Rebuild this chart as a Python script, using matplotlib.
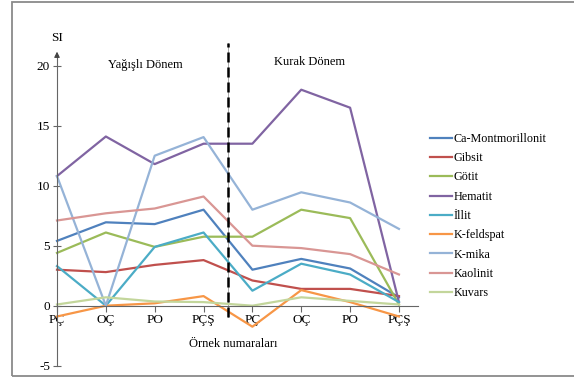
import matplotlib
matplotlib.use('Agg')
import matplotlib.pyplot as plt
from matplotlib.patches import Rectangle

plt.rcParams['font.family'] = ['Liberation Serif', 'DejaVu Serif']

# örnek noktaları (yağışlı + kurak dönem)
ornekler = ['PÇ', 'OÇ', 'PO', 'PÇŞ', 'PÇ', 'OÇ', 'PO', 'PÇŞ']

ca_montmorillonit = [5.4, 6.95, 6.8, 8.0, 3.0, 3.9, 3.1, 0.7]
gibsit = [3.0, 2.8, 3.4, 3.8, 2.1, 1.4, 1.4, 0.8]
gotit = [4.4, 6.1, 4.9, 5.75, 5.75, 8.0, 7.3, 0.1]
hematit = [10.8, 14.1, 11.8, 13.5, 13.5, 18.0, 16.5, 0.3]
illit = [3.3, 0.0, 4.9, 6.1, 1.25, 3.5, 2.6, 0.3]
k_feldspat = [-0.9, 0.0, 0.2, 0.8, -1.75, 1.3, 0.3, -0.9]
k_mika = [10.8, 0.0, 12.5, 14.05, 8.0, 9.45, 8.6, 6.4]
kaolinit = [7.1, 7.7, 8.1, 9.1, 5.0, 4.8, 4.3, 2.6]
kuvars = [0.1, 0.7, 0.35, 0.3, 0.0, 0.7, 0.4, 0.1]

seriler = [
    ('Ca-Montmorillonit', ca_montmorillonit, '#4F81BD'),
    ('Gibsit', gibsit, '#C0504D'),
    ('Götit', gotit, '#9BBB59'),
    ('Hematit', hematit, '#8064A2'),
    ('İllit', illit, '#4BACC6'),
    ('K-feldspat', k_feldspat, '#F79646'),
    ('K-mika', k_mika, '#95B3D7'),
    ('Kaolinit', kaolinit, '#D99694'),
    ('Kuvars', kuvars, '#C3D69B'),
]

W, H = 574, 378
fig = plt.figure(figsize=(W / 100, H / 100), dpi=100)

# çerçeve
fig.patches.append(Rectangle((12 / W, 2 / H), 1.0, (H - 4) / H, transform=fig.transFigure,
                             fill=False, edgecolor='#8a8a8a', lw=1.3, clip_on=False))

ax = fig.add_axes([57 / W, (H - 365.7) / H, (418 - 57) / W, 324 / H])
ax.set_xlim(0, 7.39)
ax.set_ylim(-5, 22)
ax.patch.set_visible(False)

x = list(range(len(ornekler)))
for ad, deger, renk in seriler:
    ax.plot(x, deger, color=renk, lw=1.6, label=ad, clip_on=False)

# dönem ayrımı
ax.plot([3.5, 3.5], [-0.9, 21.9], color='#999999', lw=0.6, clip_on=False, zorder=1)
ax.plot([3.5, 3.5], [-0.9, 21.9], color='black', lw=1.8, ls=(0, (4, 2)), clip_on=False, zorder=5)

# eksenler
for s in ['top', 'right']:
    ax.spines[s].set_visible(False)
ax.spines['bottom'].set_position(('data', 0))
ax.spines['left'].set_bounds(-5, 21.0)
ax.spines['bottom'].set_color('#666666')
ax.spines['left'].set_color('#666666')
ax.annotate('', xy=(0, 21.4), xytext=(0, 20.6),
            arrowprops=dict(arrowstyle='-|>', color='#444444', lw=0.8, mutation_scale=8))

ax.set_xticks(x)
ax.set_xticklabels(ornekler, fontsize=9.5)
ax.set_yticks([-5, 0, 5, 10, 15, 20])
ax.set_yticklabels(['-5', '0', '5', '10', '15', '20'], fontsize=9.5)
ax.tick_params(axis='x', direction='out', length=4, width=0.8, color='#666666', pad=2)
ax.tick_params(axis='y', direction='inout', length=6, width=0.8, color='#666666', pad=2)

ax.text(0, 22.3, 'SI', ha='center', va='center', fontsize=9.5)
ax.text(1.8, 20.1, 'Yağışlı Dönem', ha='center', va='center', fontsize=9)
ax.text(5.17, 20.3, 'Kurak Dönem', ha='center', va='center', fontsize=9)
ax.text(3.6, -3.2, 'Örnek numaraları', ha='center', va='center', fontsize=9)

fig.legend(loc='upper left', bbox_to_anchor=(430 / W, (H - 133) / H), frameon=False,
           fontsize=8.7, handlelength=1.8, handletextpad=0.15, labelspacing=0.6,
           borderaxespad=0, borderpad=0)

fig.savefig('out.png', dpi=100)
